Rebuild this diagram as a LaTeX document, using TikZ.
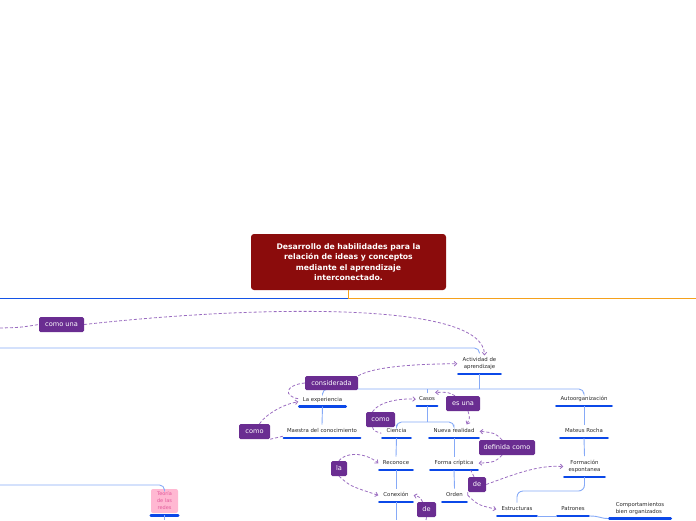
\documentclass[tikz,border=0pt]{standalone}
\usepackage{fontspec}
\setmainfont{DejaVu Sans}
\usetikzlibrary{arrows.meta}
\definecolor{rootred}{HTML}{8B0C0C}
\definecolor{lblpurple}{HTML}{6A2D91}
\definecolor{relpurple}{HTML}{9A6CC0}
\definecolor{ulblue}{HTML}{0B48E8}
\definecolor{treeblue}{HTML}{86AAF7}
\definecolor{mainblue}{HTML}{1454E6}
\definecolor{mainorange}{HTML}{F5A11C}
\definecolor{pinkbox}{HTML}{FFB8D2}
\definecolor{pinktext}{HTML}{E2589A}
\definecolor{txt}{HTML}{2A2A2A}
\tikzset{
 topic/.style={anchor=south, inner xsep=0pt, inner ysep=4pt, font=\fontsize{5.4}{7}\selectfont, text=txt, align=center},
 oneline/.style={text height=3.9pt, text depth=1.2pt},
 ulstyle/.style={ulblue, line width=2.6pt, line cap=round},
 treeline/.style={treeblue, line width=0.9pt},
 lbl/.style={fill=lblpurple, text=white, rounded corners=1.5pt, font=\fontsize{6.6}{7.5}\selectfont, inner sep=0pt, minimum height=15pt},
 rel/.style={relpurple, line width=0.8pt, dash pattern=on 3pt off 2pt},
 arr/.style={-{Straight Barb[length=2.5pt,width=4.5pt]}},
 rootbox/.style={fill=rootred, text=white, rounded corners=3pt, font=\fontsize{7.7}{10.5}\selectfont\bfseries, align=center, minimum width=195pt, minimum height=56pt, inner sep=0pt},
}
\begin{document}
\begin{tikzpicture}[x=1pt,y=-1pt]
\useasboundingbox (0,0) rectangle (696,520);

% root
\node[rootbox] (root) at (348.5,262) {Desarrollo de habilidades para la\\relación de ideas y conceptos\\mediante el aprendizaje\\interconectado.};
\coordinate (ml) at (0,298);
\coordinate (mj) at (348.5,298);
\coordinate (mr) at (696,298);
\draw[mainblue, line width=1pt] (ml) -- (mj);
\draw[mainorange, line width=1pt] (root.south) -- (mj) -- (mr);

% topics
\node[topic] (act) at (479.5,374) [minimum width=44pt] {Actividad de\\aprendizaje};
\node[topic,oneline] (exp) at (322.5,406.5) [minimum width=48pt] {La experiencia};
\node[topic,oneline] (maestra) at (322,438) [minimum width=78pt] {Maestra del conocimiento};
\node[topic,oneline] (casos) at (427,406) [minimum width=22pt] {Casos};
\node[topic,oneline] (ciencia) at (396.5,438) [minimum width=30pt] {Ciencia};
\node[topic,oneline] (nueva) at (454,438) [minimum width=51pt] {Nueva realidad};
\node[topic,oneline] (recon) at (396,470) [minimum width=35pt] {Reconoce};
\node[topic,oneline] (conex) at (396,502) [minimum width=35pt] {Conexión};
\node[topic,oneline] (forma) at (454,470) [minimum width=49pt] {Forma críptica};
\node[topic,oneline] (orden) at (454.5,502) [minimum width=26pt] {Orden};
\node[topic,oneline] (auto) at (584,406) [minimum width=57pt] {Autoorganización};
\node[topic,oneline] (mateus) at (584,438) [minimum width=49pt] {Mateus Rocha};
\node[topic] (formacion) at (584.5,477) [minimum width=42pt] {Formación\\espontanea};
\node[topic,oneline] (estr) at (517,516) [minimum width=41pt] {Estructuras};
\node[topic,oneline] (patr) at (573,516) [minimum width=33pt] {Patrones};
\node[topic,align=left] (comp) at (640,518.5) [minimum width=63pt] {Comportamientos\\bien organizados};
\foreach \n in {act,exp,maestra,casos,ciencia,nueva,recon,conex,forma,orden,auto,mateus,formacion,estr,patr,comp}
  \draw[ulstyle] ([xshift=1pt]\n.south west) -- ([xshift=-1pt]\n.south east);

\node[fill=pinkbox, rounded corners=2pt, minimum width=27pt, minimum height=24pt, inner sep=0pt, text=pinktext, font=\fontsize{5}{7}\selectfont, align=center] (teoria) at (164.5,501) {Teoría\\de las\\redes};
\draw[ulstyle] ([yshift=-2pt]teoria.south west) -- ([yshift=-2pt]teoria.south east);

% tree connectors
\coordinate (L1) at (0,348);
\coordinate (L2) at (0,485);
\coordinate (bus) at (479.5,389);
\coordinate (cbus) at (427,422);
\coordinate (fbend) at (0,491);
\coordinate (B1) at (396,520);
\coordinate (B2) at (164.5,520);
\draw[treeline, rounded corners=5pt] (L1) -| (act.north);
\draw[treeline] (act.south) -- (bus);
\draw[treeline, rounded corners=5pt] (exp.north) |- (bus) -| (auto.north);
\draw[treeline] (casos.north) -- (casos.north |- bus);
\draw[treeline] (exp.south) -- (maestra.north);
\draw[treeline] (casos.south) -- (cbus);
\draw[treeline, rounded corners=5pt] (ciencia.north) |- (cbus) -| (nueva.north);
\draw[treeline] (ciencia.south) -- (recon.north);
\draw[treeline] (recon.south) -- (conex.north);
\draw[treeline] (conex.south) -- (B1);
\draw[treeline] (nueva.south) -- (forma.north);
\draw[treeline] (forma.south) -- (orden.north);
\draw[treeline] (auto.south) -- (mateus.north);
\draw[treeline] (mateus.south) -- (formacion.north);
\draw[treeline, rounded corners=6pt] (formacion.south) |- (estr.north |- fbend) -- (estr.north);
\draw[treeline] (estr.south east) -- (patr.south west);
\draw[treeline] (patr.south east) .. controls (600,516) and (600,518.5) .. (comp.south west);
\draw[treeline, rounded corners=5pt] (L2) -| (teoria.north);
\draw[treeline] ([yshift=-2pt]teoria.south) -- (B2);

% relation labels
\node[lbl, minimum width=45pt] (comouna) at (61.5,324.5) {como una};
\node[lbl, minimum width=53pt, minimum height=14pt] (consid) at (331.5,383) {considerada};
\node[lbl, minimum width=31pt] (como1) at (254.5,431.5) {como};
\node[lbl, minimum width=29pt] (como2) at (380.5,419.5) {como};
\node[lbl, minimum width=34pt] (esuna) at (463,403.5) {es una};
\node[lbl, minimum width=56pt] (defcomo) at (507,447.5) {definida como};
\node[lbl, minimum width=16pt] (la) at (339,468.5) {la};
\node[lbl, minimum width=18pt] (de1) at (477,484.5) {de};
\node[lbl, minimum width=19pt] (de2) at (426.5,509.5) {de};

% relations
\coordinate (L0) at (0,328);
\coordinate (B3) at (426,520);
\draw[rel] (L0) .. controls (20,327.5) .. (comouna.west);
\draw[rel,arr] (comouna.east) .. controls (250,306) and (484,300) .. ([xshift=5pt,yshift=-2pt]act.north);
\draw[rel,arr] (consid.north east) .. controls (375,366) and (420,364) .. (act.west);
\draw[rel] (consid.west) .. controls (285,385) and (283,396) .. ([yshift=1pt]exp.west);
\draw[rel,arr] ([xshift=5pt]como1.north) .. controls (266,414) and (284,404) .. ([yshift=-2pt]exp.west);
\draw[rel] (como1.south east) .. controls (276,438) .. ([yshift=-5pt]maestra.west);
\draw[rel,arr] ([xshift=-8pt]como2.north) .. controls (378,402) and (400,398) .. (casos.west);
\draw[rel] ([xshift=-8pt]como2.south) .. controls (374,431) .. ([yshift=-2pt]ciencia.west);
\draw[rel,arr] ([xshift=-8pt]esuna.north) .. controls (448,392) .. ([xshift=-3pt]casos.north east);
\draw[rel,arr] ([xshift=5pt]esuna.south) .. controls (470,418) .. ([xshift=-13pt]nueva.north east);
\draw[rel,arr] ([xshift=-5pt]defcomo.north) .. controls (495,433) .. (nueva.east);
\draw[rel,arr] ([xshift=-5pt]defcomo.south) .. controls (495,462) .. (forma.east);
\draw[rel,arr] (la.north) .. controls (345,452) and (365,452) .. (recon.west);
\draw[rel,arr] (la.south) .. controls (350,486) .. (conex.west);
\draw[rel,arr] (de1.east) .. controls (520,472) and (540,465) .. (formacion.west);
\draw[rel] ([xshift=-3pt]de1.north) -- ([xshift=-8pt]forma.south east);
\draw[rel] (de1.south west) -- (orden.east);
\draw[rel,arr] (orden.east) .. controls (478,505) .. (estr.west);
\draw[rel,arr] ([xshift=-4pt]de2.north) .. controls (420,497) .. (conex.east);
\draw[rel] (de2.south) -- (B3);
\end{tikzpicture}
\end{document}
